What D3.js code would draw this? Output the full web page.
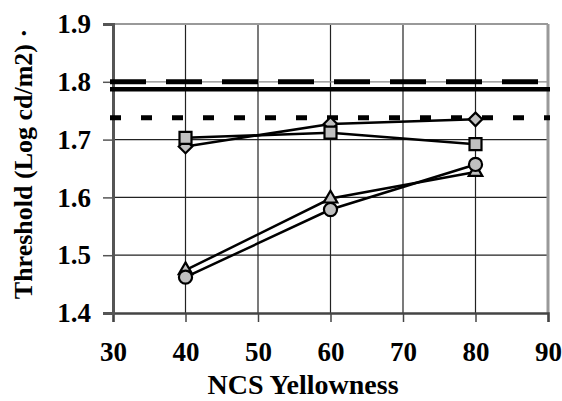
<!DOCTYPE html>
<html><head><meta charset="utf-8">
<script src="https://cdn.jsdelivr.net/npm/d3@7"></script>
<style>body{margin:0;background:#fff}svg{display:block}text{font-family:"Liberation Serif","Times New Roman",serif;font-weight:bold;fill:#000}</style>
</head><body><svg id="c" width="562" height="401"></svg>
<script>
const xTicks = [30,40,50,60,70,80,90];
const yTicks = [1.4,1.5,1.6,1.7,1.8,1.9];
const xCats = [40,60,80];
const diamondVals = [1.688,1.727,1.735];
const squareVals = [1.703,1.712,1.692];
const triangleVals = [1.474,1.598,1.644];
const circleVals = [1.462,1.579,1.657];
const refDashed = 1.800;
const refSolid = 1.787;
const refDotted = 1.738;

const svg = d3.select("#c");
const L=113,R=548,T=24,B=313;
const x = d3.scaleLinear().domain([30,90]).range([L,R]);
const y = d3.scaleLinear().domain([1.4,1.9]).range([B,T]);

// gridlines
svg.append("g").selectAll("line").data(xTicks.slice(1,-1)).join("line")
  .attr("x1",d=>x(d)).attr("x2",d=>x(d)).attr("y1",T).attr("y2",B)
  .attr("stroke","#222").attr("stroke-width",1.2);
svg.append("g").selectAll("line").data(yTicks.slice(1,-1)).join("line")
  .attr("x1",L).attr("x2",R).attr("y1",d=>y(d)).attr("y2",d=>y(d))
  .attr("stroke",d=>d===1.8?"#888":"#222").attr("stroke-width",1.2);
// frame top/right
svg.append("line").attr("x1",L).attr("x2",R).attr("y1",T).attr("y2",T).attr("stroke","#999").attr("stroke-width",2);
svg.append("line").attr("x1",R).attr("x2",R).attr("y1",T).attr("y2",B).attr("stroke","#999").attr("stroke-width",3);

// axes
const xAxis = d3.axisBottom(x).tickValues(xTicks).tickSize(9).tickPadding(20).tickFormat(d3.format("d"));
const gx = svg.append("g").attr("transform",`translate(0,${B})`).call(xAxis);
gx.select(".domain").attr("stroke","#444").attr("stroke-width",2.5);
gx.selectAll(".tick line").attr("stroke","#444").attr("stroke-width",1.5);
gx.selectAll(".tick text").attr("font-size",27).attr("fill","#000");
const yAxis = d3.axisLeft(y).tickValues(yTicks).tickSize(10).tickPadding(12).tickFormat(d3.format(".1f"));
const gy = svg.append("g").attr("transform",`translate(${L},0)`).call(yAxis);
gy.select(".domain").attr("stroke","#555").attr("stroke-width",3);
gy.selectAll(".tick line").attr("stroke","#555").attr("stroke-width",1.5);
gy.selectAll(".tick text").attr("font-size",27).attr("fill","#000");
gx.selectAll(".domain").raise();

// reference lines
const x0 = L-3, x1 = R+2;
svg.append("line").attr("x1",x0).attr("x2",x1).attr("y1",y(refDashed)).attr("y2",y(refDashed))
  .attr("stroke","#000").attr("stroke-width",5).attr("stroke-dasharray","36,20");
svg.append("line").attr("x1",x0).attr("x2",x1).attr("y1",y(refSolid)).attr("y2",y(refSolid))
  .attr("stroke","#000").attr("stroke-width",4.5);
svg.append("line").attr("x1",x0).attr("x2",x1).attr("y1",y(refDotted)).attr("y2",y(refDotted))
  .attr("stroke","#000").attr("stroke-width",5).attr("stroke-dasharray","11,20");

// series
const series = [
  {vals:diamondVals, sym:d3.symbolSquare, size:92, rot:45},
  {vals:squareVals, sym:d3.symbolSquare, size:144, rot:0},
  {vals:triangleVals, sym:d3.symbolTriangle, size:80, rot:0},
  {vals:circleVals, sym:d3.symbolCircle, size:135, rot:0}
];
const line = d3.line().x((d,i)=>x(xCats[i])).y(d=>y(d));
series.forEach(s=>{
  svg.append("path").attr("d",line(s.vals)).attr("fill","none").attr("stroke","#000").attr("stroke-width",2.5);
});
series.forEach(s=>{
  svg.append("g").selectAll("path").data(s.vals).join("path")
    .attr("d",d3.symbol().type(s.sym).size(s.size))
    .attr("transform",(d,i)=>`translate(${x(xCats[i])},${y(d)}) rotate(${s.rot})`)
    .attr("fill","#c0c0c0").attr("stroke","#000").attr("stroke-width",2.2);
});

// titles
svg.append("text").attr("x",303).attr("y",394).attr("text-anchor","middle").attr("font-size",28).text("NCS Yellowness");
svg.append("text").attr("transform","translate(32,164) rotate(-90)").attr("text-anchor","middle").attr("font-size",26).text("Threshold (Log cd/m2) ·");
</script></body></html>
